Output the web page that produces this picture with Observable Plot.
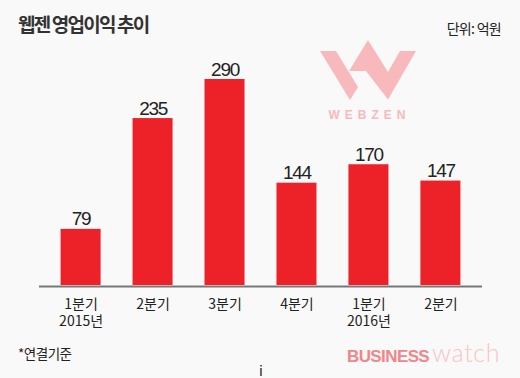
<!DOCTYPE html>
<html><head><meta charset="utf-8">
<script src="https://cdn.jsdelivr.net/npm/d3@7"></script>
<script src="https://cdn.jsdelivr.net/npm/@observablehq/plot@0.6"></script>
<style>
html,body{margin:0;padding:0;background:#f9f9f9;overflow:hidden;cursor:none;}
*{cursor:none;}
#wrap{position:relative;width:520px;height:378px;overflow:hidden;background:#f9f9f9;}
#chart svg{display:block;}
#deco{position:absolute;left:0;top:0;pointer-events:none;}
.k{font-family:"Noto Sans CJK KR","Noto Sans",sans-serif;}
</style></head><body>
<div id="wrap">
<div id="chart"></div>
<svg id="deco" width="520" height="378" xmlns="http://www.w3.org/2000/svg">
  <text class="k" x="18" y="31.5" font-size="19" font-weight="700" letter-spacing="-1.8" fill="#333">웹젠 영업이익 추이</text>
  <text class="k" x="501" y="34" text-anchor="end" font-size="14" letter-spacing="-0.7" fill="#222">단위: 억원</text>
  <text class="k" x="18" y="359" font-size="13.5" letter-spacing="-0.5" fill="#222">*연결기준</text>
  <g fill="#f7b9bb">
    <polygon points="320,51 336,51 358,87 350,100"/>
    <polygon points="349,71 368,40 388,72 400,51 416,51 388,99.5 366,71"/>
  </g>
  <text x="369.5" y="119" text-anchor="middle" font-family="Liberation Sans, Arial, sans-serif" font-weight="700" font-size="12" letter-spacing="5" fill="#f7b9bb">WEBZEN</text>
  <text x="347" y="362" font-family="Liberation Sans, Arial, sans-serif" font-weight="700" font-size="17" letter-spacing="-0.6" fill="#f0868a">BUSINESS</text>
  <text x="432" y="362" font-family="Lato, Roboto, sans-serif" font-weight="300" font-size="25" letter-spacing="0.6" fill="#f9c4c6">watch</text>
</svg>
</div>
<script>
const quarters = ["1분기","2분기","3분기","4분기","1분기","2분기"];
const years = ["2015년","","","","2016년",""];
const profits = [79, 235, 290, 144, 170, 147];

const data = profits.map((v, i) => ({i, v}));

const plot = Plot.plot({
  width: 520,
  height: 378,
  marginTop: 79,
  marginBottom: 93,
  marginLeft: 39,
  marginRight: 38,
  style: {background: "transparent", fontFamily: "'Noto Sans CJK KR', 'Noto Sans', sans-serif", color: "#222"},
  x: {type: "band", domain: d3.range(quarters.length), paddingInner: 0.444, paddingOuter: 0.3, round: false},
  y: {domain: [0, 290], axis: null},
  marks: [
    Plot.barY(data, {x: "i", y: "v", fill: "#ed2128"}),
    Plot.ruleY([0], {stroke: "#777", strokeWidth: 2, dy: 1}),
    Plot.text(data, {x: "i", y: "v", text: d => String(d.v), dy: -4, lineAnchor: "bottom",
      fontSize: 19, fill: "#222", fontFamily: "'Liberation Sans', Arial, sans-serif", className: "vals"}),
    Plot.axisX({tickSize: 0, tickPadding: 12, fontSize: 14, lineHeight: 1.2, fill: "#222",
      tickFormat: i => quarters[i] + (years[i] ? "\n" + years[i] : "")})
  ]
});
d3.select(plot).selectAll("g[aria-label='text'] text").attr("letter-spacing", "-1.3px");
document.getElementById("chart").appendChild(plot);
</script>
</body></html>
